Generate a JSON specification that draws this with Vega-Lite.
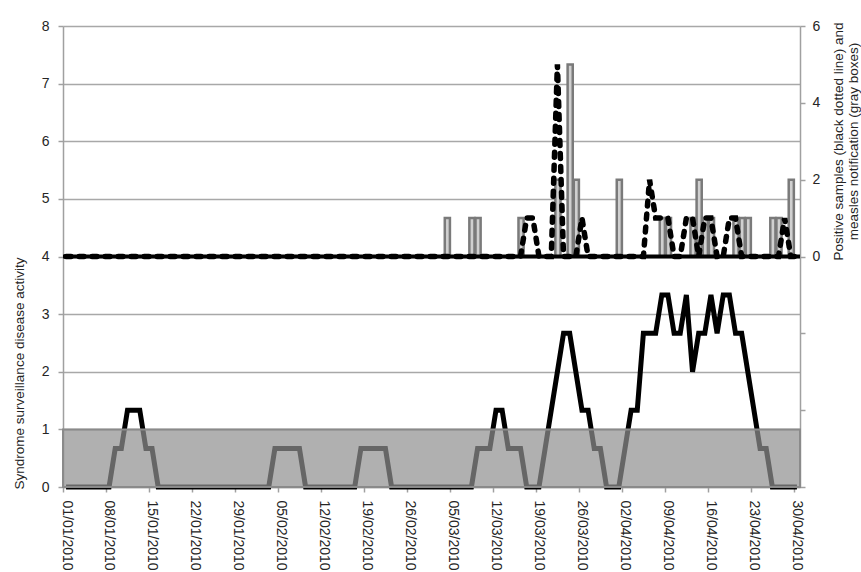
{
  "$schema": "https://vega.github.io/schema/vega-lite/v6.json",
  "width": 737,
  "height": 461,
  "autosize": {"type": "none"},
  "padding": {"left": 63, "top": 26, "right": 61, "bottom": 85},
  "background": "white",
  "config": {
    "font": "Liberation Sans",
    "view": {"stroke": null},
    "axis": {
      "labelFont": "Liberation Sans",
      "titleFont": "Liberation Sans",
      "labelFontSize": 14,
      "titleFontSize": 13.5,
      "labelColor": "#252525",
      "titleColor": "#252525",
      "titleFontWeight": "normal",
      "domainColor": "#a0a0a0",
      "domainWidth": 1.5,
      "tickColor": "#a0a0a0",
      "tickWidth": 1.5,
      "tickSize": 5,
      "gridColor": "#a8a8a8",
      "gridWidth": 1.5
    }
  },
  "data": {
    "values": [
      {"d": "2010-01-01", "s": 0, "p": 0, "m": 0},
      {"d": "2010-01-02", "s": 0, "p": 0, "m": 0},
      {"d": "2010-01-03", "s": 0, "p": 0, "m": 0},
      {"d": "2010-01-04", "s": 0, "p": 0, "m": 0},
      {"d": "2010-01-05", "s": 0, "p": 0, "m": 0},
      {"d": "2010-01-06", "s": 0, "p": 0, "m": 0},
      {"d": "2010-01-07", "s": 0, "p": 0, "m": 0},
      {"d": "2010-01-08", "s": 0, "p": 0, "m": 0},
      {"d": "2010-01-09", "s": 0.667, "p": 0, "m": 0},
      {"d": "2010-01-10", "s": 0.667, "p": 0, "m": 0},
      {"d": "2010-01-11", "s": 1.333, "p": 0, "m": 0},
      {"d": "2010-01-12", "s": 1.333, "p": 0, "m": 0},
      {"d": "2010-01-13", "s": 1.333, "p": 0, "m": 0},
      {"d": "2010-01-14", "s": 0.667, "p": 0, "m": 0},
      {"d": "2010-01-15", "s": 0.667, "p": 0, "m": 0},
      {"d": "2010-01-16", "s": 0, "p": 0, "m": 0},
      {"d": "2010-01-17", "s": 0, "p": 0, "m": 0},
      {"d": "2010-01-18", "s": 0, "p": 0, "m": 0},
      {"d": "2010-01-19", "s": 0, "p": 0, "m": 0},
      {"d": "2010-01-20", "s": 0, "p": 0, "m": 0},
      {"d": "2010-01-21", "s": 0, "p": 0, "m": 0},
      {"d": "2010-01-22", "s": 0, "p": 0, "m": 0},
      {"d": "2010-01-23", "s": 0, "p": 0, "m": 0},
      {"d": "2010-01-24", "s": 0, "p": 0, "m": 0},
      {"d": "2010-01-25", "s": 0, "p": 0, "m": 0},
      {"d": "2010-01-26", "s": 0, "p": 0, "m": 0},
      {"d": "2010-01-27", "s": 0, "p": 0, "m": 0},
      {"d": "2010-01-28", "s": 0, "p": 0, "m": 0},
      {"d": "2010-01-29", "s": 0, "p": 0, "m": 0},
      {"d": "2010-01-30", "s": 0, "p": 0, "m": 0},
      {"d": "2010-01-31", "s": 0, "p": 0, "m": 0},
      {"d": "2010-02-01", "s": 0, "p": 0, "m": 0},
      {"d": "2010-02-02", "s": 0, "p": 0, "m": 0},
      {"d": "2010-02-03", "s": 0, "p": 0, "m": 0},
      {"d": "2010-02-04", "s": 0.667, "p": 0, "m": 0},
      {"d": "2010-02-05", "s": 0.667, "p": 0, "m": 0},
      {"d": "2010-02-06", "s": 0.667, "p": 0, "m": 0},
      {"d": "2010-02-07", "s": 0.667, "p": 0, "m": 0},
      {"d": "2010-02-08", "s": 0.667, "p": 0, "m": 0},
      {"d": "2010-02-09", "s": 0, "p": 0, "m": 0},
      {"d": "2010-02-10", "s": 0, "p": 0, "m": 0},
      {"d": "2010-02-11", "s": 0, "p": 0, "m": 0},
      {"d": "2010-02-12", "s": 0, "p": 0, "m": 0},
      {"d": "2010-02-13", "s": 0, "p": 0, "m": 0},
      {"d": "2010-02-14", "s": 0, "p": 0, "m": 0},
      {"d": "2010-02-15", "s": 0, "p": 0, "m": 0},
      {"d": "2010-02-16", "s": 0, "p": 0, "m": 0},
      {"d": "2010-02-17", "s": 0, "p": 0, "m": 0},
      {"d": "2010-02-18", "s": 0.667, "p": 0, "m": 0},
      {"d": "2010-02-19", "s": 0.667, "p": 0, "m": 0},
      {"d": "2010-02-20", "s": 0.667, "p": 0, "m": 0},
      {"d": "2010-02-21", "s": 0.667, "p": 0, "m": 0},
      {"d": "2010-02-22", "s": 0.667, "p": 0, "m": 0},
      {"d": "2010-02-23", "s": 0, "p": 0, "m": 0},
      {"d": "2010-02-24", "s": 0, "p": 0, "m": 0},
      {"d": "2010-02-25", "s": 0, "p": 0, "m": 0},
      {"d": "2010-02-26", "s": 0, "p": 0, "m": 0},
      {"d": "2010-02-27", "s": 0, "p": 0, "m": 0},
      {"d": "2010-02-28", "s": 0, "p": 0, "m": 0},
      {"d": "2010-03-01", "s": 0, "p": 0, "m": 0},
      {"d": "2010-03-02", "s": 0, "p": 0, "m": 0},
      {"d": "2010-03-03", "s": 0, "p": 0, "m": 0},
      {"d": "2010-03-04", "s": 0, "p": 0, "m": 1},
      {"d": "2010-03-05", "s": 0, "p": 0, "m": 0},
      {"d": "2010-03-06", "s": 0, "p": 0, "m": 0},
      {"d": "2010-03-07", "s": 0, "p": 0, "m": 0},
      {"d": "2010-03-08", "s": 0, "p": 0, "m": 1},
      {"d": "2010-03-09", "s": 0.667, "p": 0, "m": 1},
      {"d": "2010-03-10", "s": 0.667, "p": 0, "m": 0},
      {"d": "2010-03-11", "s": 0.667, "p": 0, "m": 0},
      {"d": "2010-03-12", "s": 1.333, "p": 0, "m": 0},
      {"d": "2010-03-13", "s": 1.333, "p": 0, "m": 0},
      {"d": "2010-03-14", "s": 0.667, "p": 0, "m": 0},
      {"d": "2010-03-15", "s": 0.667, "p": 0, "m": 0},
      {"d": "2010-03-16", "s": 0.667, "p": 0, "m": 1},
      {"d": "2010-03-17", "s": 0, "p": 1, "m": 0},
      {"d": "2010-03-18", "s": 0, "p": 1, "m": 0},
      {"d": "2010-03-19", "s": 0, "p": 0, "m": 0},
      {"d": "2010-03-20", "s": 0.667, "p": 0, "m": 0},
      {"d": "2010-03-21", "s": 1.333, "p": 0, "m": 0},
      {"d": "2010-03-22", "s": 2, "p": 5, "m": 2},
      {"d": "2010-03-23", "s": 2.667, "p": 0, "m": 0},
      {"d": "2010-03-24", "s": 2.667, "p": 0, "m": 5},
      {"d": "2010-03-25", "s": 2, "p": 0, "m": 2},
      {"d": "2010-03-26", "s": 1.333, "p": 1, "m": 0},
      {"d": "2010-03-27", "s": 1.333, "p": 0, "m": 0},
      {"d": "2010-03-28", "s": 0.667, "p": 0, "m": 0},
      {"d": "2010-03-29", "s": 0.667, "p": 0, "m": 0},
      {"d": "2010-03-30", "s": 0, "p": 0, "m": 0},
      {"d": "2010-03-31", "s": 0, "p": 0, "m": 0},
      {"d": "2010-04-01", "s": 0, "p": 0, "m": 2},
      {"d": "2010-04-02", "s": 0.667, "p": 0, "m": 0},
      {"d": "2010-04-03", "s": 1.333, "p": 0, "m": 0},
      {"d": "2010-04-04", "s": 1.333, "p": 0, "m": 0},
      {"d": "2010-04-05", "s": 2.667, "p": 0, "m": 0},
      {"d": "2010-04-06", "s": 2.667, "p": 2, "m": 0},
      {"d": "2010-04-07", "s": 2.667, "p": 1, "m": 0},
      {"d": "2010-04-08", "s": 3.333, "p": 1, "m": 1},
      {"d": "2010-04-09", "s": 3.333, "p": 1, "m": 1},
      {"d": "2010-04-10", "s": 2.667, "p": 0, "m": 0},
      {"d": "2010-04-11", "s": 2.667, "p": 0, "m": 0},
      {"d": "2010-04-12", "s": 3.333, "p": 1, "m": 0},
      {"d": "2010-04-13", "s": 2, "p": 1, "m": 1},
      {"d": "2010-04-14", "s": 2.667, "p": 0, "m": 2},
      {"d": "2010-04-15", "s": 2.667, "p": 1, "m": 1},
      {"d": "2010-04-16", "s": 3.333, "p": 1, "m": 1},
      {"d": "2010-04-17", "s": 2.667, "p": 0, "m": 0},
      {"d": "2010-04-18", "s": 3.333, "p": 0, "m": 0},
      {"d": "2010-04-19", "s": 3.333, "p": 1, "m": 0},
      {"d": "2010-04-20", "s": 2.667, "p": 1, "m": 1},
      {"d": "2010-04-21", "s": 2.667, "p": 0, "m": 1},
      {"d": "2010-04-22", "s": 2, "p": 0, "m": 1},
      {"d": "2010-04-23", "s": 1.333, "p": 0, "m": 0},
      {"d": "2010-04-24", "s": 0.667, "p": 0, "m": 0},
      {"d": "2010-04-25", "s": 0.667, "p": 0, "m": 0},
      {"d": "2010-04-26", "s": 0, "p": 0, "m": 1},
      {"d": "2010-04-27", "s": 0, "p": 0, "m": 1},
      {"d": "2010-04-28", "s": 0, "p": 1, "m": 0},
      {"d": "2010-04-29", "s": 0, "p": 0, "m": 2},
      {"d": "2010-04-30", "s": 0, "p": 0, "m": 0}
    ]
  },
  "layer": [
    {
      "layer": [
        {
          "mark": {"type": "line", "color": "black", "strokeWidth": 5},
          "encoding": {
            "x": {
              "field": "d", "type": "temporal", "timeUnit": "utcyearmonthdate", "bandPosition": 0.5,
              "scale": {"domain": [{"year": 2010, "month": 1, "date": 1, "utc": true}, {"year": 2010, "month": 5, "date": 1, "utc": true}]},
              "axis": {
                "values": [
                  {"year": 2010, "month": 1, "date": 1, "utc": true},
                  {"year": 2010, "month": 1, "date": 8, "utc": true},
                  {"year": 2010, "month": 1, "date": 15, "utc": true},
                  {"year": 2010, "month": 1, "date": 22, "utc": true},
                  {"year": 2010, "month": 1, "date": 29, "utc": true},
                  {"year": 2010, "month": 2, "date": 5, "utc": true},
                  {"year": 2010, "month": 2, "date": 12, "utc": true},
                  {"year": 2010, "month": 2, "date": 19, "utc": true},
                  {"year": 2010, "month": 2, "date": 26, "utc": true},
                  {"year": 2010, "month": 3, "date": 5, "utc": true},
                  {"year": 2010, "month": 3, "date": 12, "utc": true},
                  {"year": 2010, "month": 3, "date": 19, "utc": true},
                  {"year": 2010, "month": 3, "date": 26, "utc": true},
                  {"year": 2010, "month": 4, "date": 2, "utc": true},
                  {"year": 2010, "month": 4, "date": 9, "utc": true},
                  {"year": 2010, "month": 4, "date": 16, "utc": true},
                  {"year": 2010, "month": 4, "date": 23, "utc": true},
                  {"year": 2010, "month": 4, "date": 30, "utc": true}
                ],
                "format": "%d/%m/%Y",
                "labelAngle": 90,
                "labelAlign": "left",
                "labelBaseline": "middle",
                "labelPadding": 8,
                "labelOffset": 3,
                "labelOverlap": false,
                "labelFlush": false,
                "labelBound": false,
                "grid": false,
                "title": null
              }
            },
            "y": {
              "field": "s", "type": "quantitative",
              "scale": {"domain": [0, 8], "nice": false},
              "axis": {
                "orient": "left",
                "values": [0, 1, 2, 3, 4, 5, 6, 7, 8],
                "format": "d",
                "grid": true,
                "labelPadding": 9,
                "title": "Syndrome surveillance disease activity",
                "titleAngle": 270,
                "titleX": -37,
                "titleY": 347,
                "titleAlign": "center",
                "titleBaseline": "bottom"
              }
            }
          }
        },
        {
          "data": {"values": [{"lo": 0, "hi": 1}]},
          "mark": {"type": "rect", "fill": "#909090", "fillOpacity": 0.71, "stroke": "#8a8a8a", "strokeWidth": 2},
          "encoding": {
            "y": {"field": "lo", "type": "quantitative"},
            "y2": {"field": "hi"}
          }
        }
      ]
    },
    {
      "layer": [
        {
          "transform": [{"filter": "datum.m > 0"}],
          "mark": {"type": "bar", "fill": "#d0d0d0", "stroke": "#7a7a7a", "strokeWidth": 2.5},
          "encoding": {
            "x": {"field": "d", "type": "temporal", "timeUnit": "utcyearmonthdate"},
            "y": {
              "field": "m", "type": "quantitative",
              "scale": {"domain": [-6, 6], "nice": false},
              "axis": {
                "orient": "right",
                "values": [-6, -4, -2, 0, 2, 4, 6],
                "format": "d",
                "labelExpr": "datum.value >= 0 ? datum.label : ''",
                "grid": false,
                "labelPadding": 7,
                "title": ["Positive samples (black dotted line) and", "measles notification (gray boxes)"],
                "titleAngle": 270,
                "titleX": 31,
                "titleY": 115,
                "titleAlign": "center",
                "titleBaseline": "top",
                "titleLineHeight": 15
              }
            }
          }
        },
        {
          "mark": {"type": "line", "color": "black", "strokeWidth": 5.5, "strokeDash": [5, 8], "strokeCap": "round"},
          "encoding": {
            "x": {"field": "d", "type": "temporal", "timeUnit": "utcyearmonthdate", "bandPosition": 0.5},
            "y": {"field": "p", "type": "quantitative"}
          }
        },
        {
          "data": {"values": [{"z": 0}]},
          "mark": {"type": "rule", "color": "black", "strokeWidth": 4},
          "encoding": {
            "y": {"field": "z", "type": "quantitative"}
          }
        }
      ]
    }
  ],
  "resolve": {"scale": {"y": "independent"}}
}
